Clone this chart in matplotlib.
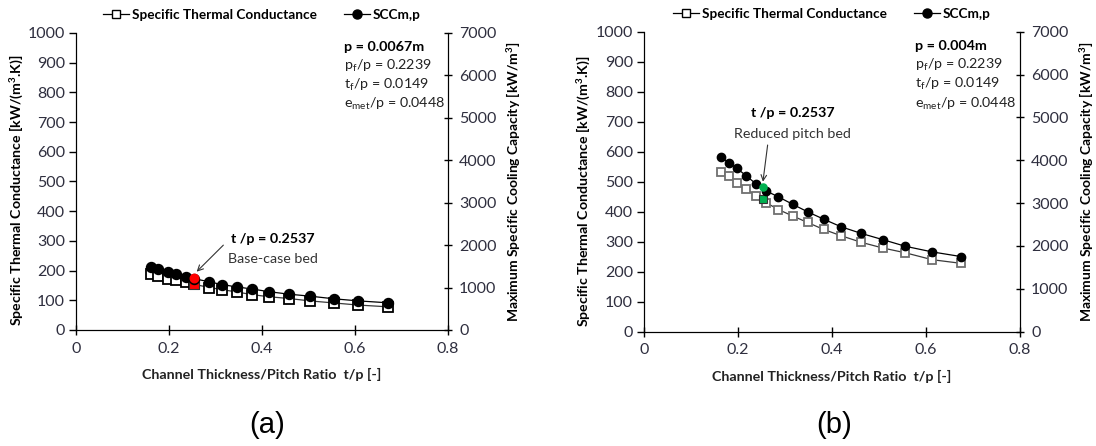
import numpy as np
import matplotlib
matplotlib.use("Agg")
import matplotlib.pyplot as plt
from matplotlib.lines import Line2D

plt.rcParams['font.family'] = ['Lato', 'DejaVu Sans']
plt.rcParams['mathtext.fontset'] = 'custom'
plt.rcParams['mathtext.rm'] = 'Lato'
plt.rcParams['mathtext.bf'] = 'Lato:bold'

# panel (a): base-case bed, p = 0.0067 m
tp_a = [0.162, 0.177, 0.198, 0.216, 0.237, 0.2537, 0.287, 0.314, 0.346, 0.379,
        0.415, 0.458, 0.503, 0.555, 0.607, 0.671]
stc_a = [190, 181, 173, 167, 160, 154, 143, 136, 128, 119, 112, 106, 98, 91, 84, 78]
scc_a = [1484, 1428, 1365, 1309, 1253, 1211, 1134, 1071, 1015, 966, 903, 844,
         798, 735, 686, 641]

# panel (b): reduced pitch bed, p = 0.004 m
tp_b = [0.164, 0.181, 0.198, 0.218, 0.238, 0.260, 0.286, 0.316, 0.348, 0.382,
        0.419, 0.462, 0.508, 0.556, 0.613, 0.674]
stc_b = [533, 519, 497, 475, 453, 430, 407, 386, 364, 341, 320, 298, 279, 263, 240, 228]
scc_b = [4072, 3940, 3810, 3632, 3453, 3284, 3145, 2975, 2797, 2627, 2449, 2294,
         2148, 1993, 1862, 1754]

# highlighted design points
hl_tp = 0.2537
hl_stc_a, hl_scc_a = 155, 1218
hl_stc_b, hl_scc_b = 442, 3383

tick_col = '#2f2f3f'


def make_panel(rect, tp, stc, scc, hl_stc, hl_scc, hl_col, pitch, sq_edge, msz,
               lbl_xy, sub_xy, sub_text, ha, arrow_from, arrow_to):
    ax = fig.add_axes(rect)
    ax.plot(tp, stc, color='#3a3a3a', lw=0.9, marker='s', ms=msz, mfc='white',
            mec=sq_edge, mew=1.3, zorder=2)
    ax.plot([hl_tp], [hl_stc], ls='none', marker='s', ms=msz, mfc=hl_col, mec='#333333',
            mew=0.8, zorder=3)
    ax.set_xlim(0, 0.8)
    ax.set_ylim(0, 1000)
    ax.set_xticks([0, 0.2, 0.4, 0.6, 0.8])
    ax.set_xticklabels(['0', '0.2', '0.4', '0.6', '0.8'])
    ax.set_yticks(np.arange(0, 1001, 100))
    ax.spines['top'].set_visible(False)
    ax.tick_params(axis='y', direction='out', length=5, labelsize=11.5,
                   labelcolor=tick_col, width=1, pad=3)
    ax.tick_params(axis='x', direction='inout', length=7, labelsize=11.5,
                   labelcolor=tick_col, width=1, pad=5)
    ax.set_xlabel('Channel Thickness/Pitch Ratio  t/p [-]', fontsize=10.3,
                  fontweight='bold', color='#222222')
    ax.xaxis.set_label_coords(0.5, -0.127)
    ax.set_ylabel('Specific Thermal Conductance [kW/(m$^\\mathbf{3}$.K)]', fontsize=10.2,
                  fontweight='bold')
    ax.yaxis.set_label_coords(-0.137, 0.47)

    ax2 = ax.twinx()
    ax2.plot(tp, scc, color='black', lw=0.9, marker='o', ms=msz, mfc='black', mec='black',
             zorder=2)
    ax2.plot([hl_tp], [hl_scc], ls='none', marker='o', ms=msz * 0.85, mfc=hl_col,
             mec=hl_col, zorder=3)
    ax2.set_ylim(0, 7000)
    ax2.set_yticks(np.arange(0, 7001, 1000))
    ax2.spines['top'].set_visible(False)
    ax2.tick_params(axis='y', direction='inout', length=6, labelsize=11.5,
                    labelcolor=tick_col, width=1, pad=5)
    ax2.set_ylabel('Maximum Specific Cooling Capacity [kW/m$^\\mathbf{3}$]', fontsize=10.0,
                   fontweight='bold')
    ax2.yaxis.set_label_coords(1.152, 0.5)

    # parameter box, top right
    ax2.text(0.72, 0.954, f'p = {pitch}m', transform=ax.transAxes, fontsize=10.3,
             fontweight='bold', ha='left', va='center')
    lines = ['p$_\\mathrm{f}$/p = 0.2239', 't$_\\mathrm{f}$/p = 0.0149',
             'e$_\\mathrm{met}$/p = 0.0448']
    for i, s in enumerate(lines):
        ax2.text(0.72, 0.954 - 0.0645 * (i + 1), s, transform=ax.transAxes,
                 fontsize=10.3, ha='left', va='center', color='#222222')

    # design point label
    ax2.annotate('', xy=arrow_to, xytext=arrow_from,
                 arrowprops=dict(arrowstyle='->', color='#333333', lw=0.8,
                                 shrinkA=0, shrinkB=0))
    ax2.text(lbl_xy[0], lbl_xy[1], 't /p = 0.2537', fontsize=10.3, fontweight='bold',
             ha=ha, va='center')
    ax2.text(sub_xy[0], sub_xy[1], sub_text, fontsize=10.3, ha=ha, va='center',
             color='#333333')

    handles = [Line2D([], [], color='black', lw=0.9, marker='s', ms=6, mfc='white',
                      mec='black'),
               Line2D([], [], color='black', lw=0.9, marker='o', ms=6.5, mfc='black')]
    ax.legend(handles, ['Specific Thermal Conductance', 'SCCm,p'], loc='center',
              bbox_to_anchor=(0.5, 1.06), ncol=2, frameon=False,
              prop={'size': 9.8, 'weight': 'bold'}, handlelength=1.9,
              handletextpad=0.2, columnspacing=2.0, borderaxespad=0)
    return ax, ax2


fig = plt.figure(figsize=(10.96, 4.46), dpi=100)

make_panel([0.0693, 0.2601, 0.3394, 0.666], tp_a, stc_a, scc_a, hl_stc_a, hl_scc_a,
           '#ff0000', '0.0067', 'black', 7.2,
           (0.333, 2140), (0.3276, 1675), 'Base-case bed', 'left',
           (0.317, 2000), (0.2596, 1374))

make_panel([0.5876, 0.2563, 0.3431, 0.6726], tp_b, stc_b, scc_b, hl_stc_b, hl_scc_b,
           '#00b050', '0.004', '#707070', 6.0,
           (0.3164, 5100), (0.3164, 4606), 'Reduced pitch bed', 'center',
           (0.263, 4356), (0.2530, 3500))

fig.text(267 / 1096, 0.047, '(a)', fontsize=21, family='Liberation Sans', ha='center',
         va='center')
fig.text(834 / 1096, 0.047, '(b)', fontsize=21, family='Liberation Sans', ha='center',
         va='center')

fig.savefig('out.png', dpi=100)
